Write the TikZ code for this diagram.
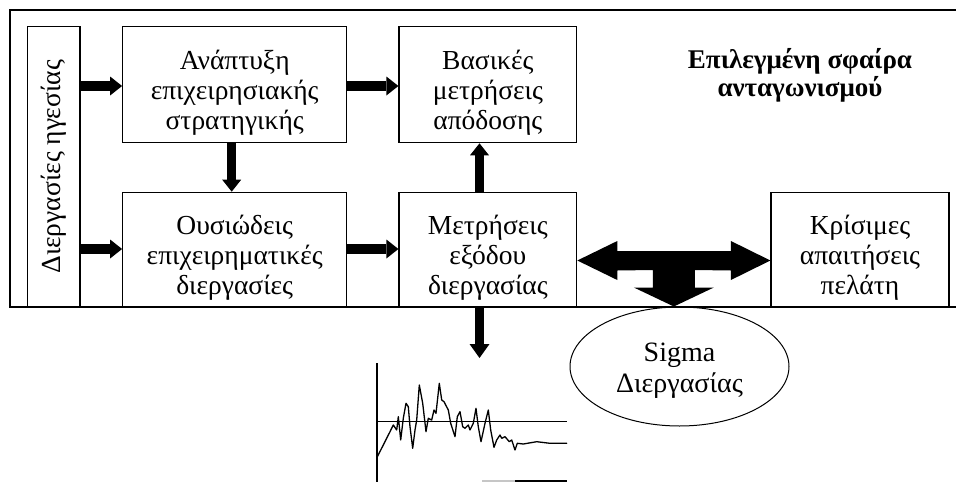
\documentclass[tikz,border=0pt]{standalone}
\usepackage{fontspec}
\setmainfont{Liberation Serif}
\usetikzlibrary{arrows.meta,calc,shapes.geometric}
\newcommand\boxfont{\fontsize{27.5}{30}\selectfont}
\begin{document}
\begin{tikzpicture}[x=1pt,y=-1pt,
  box/.style={draw,line width=1.2pt,inner sep=0pt},
  boxtext/.style={align=center,font=\boxfont,inner sep=0pt,yshift=-8.5pt},
  fat/.style={line width=9.5pt,-{Triangle[width=19pt,length=12pt,line width=0pt]}},
  frame/.style={line width=1.3pt},
  ]
\useasboundingbox (0,0) rectangle (956,482);

% outer frame, open on the right
\draw[frame] (956,10) -- (10,10) -- (10,307) -- (956,307);

% process boxes
\node[box,align=center,font=\boxfont,rotate=90,minimum width=280.3pt,minimum height=52.5pt] (lead) at (53.75,166.85) {Διεργασίες ηγεσίας};
\node[box,minimum width=224pt,minimum height=115.8pt,
  label={[boxtext]center:{Ανάπτυξη\\επιχειρησιακής\\στρατηγικής}}] (A) at (234.7,84.6) {};
\node[box,minimum width=224pt,minimum height=114.7pt,
  label={[boxtext]center:{Ουσιώδεις\\επιχειρηματικές\\διεργασίες}}] (B) at (234.7,249.65) {};
\node[box,minimum width=177.7pt,minimum height=116pt,
  label={[boxtext]center:{Βασικές\\μετρήσεις\\απόδοσης}}] (C) at (487.85,84.7) {};
\node[box,minimum width=177.7pt,minimum height=114.7pt,
  label={[boxtext]center:{Μετρήσεις\\εξόδου\\διεργασίας}}] (D) at (487.85,249.65) {};
\node[box,minimum width=178pt,minimum height=114.7pt,
  label={[boxtext]center:{Κρίσιμες\\απαιτήσεις\\πελάτη}}] (E) at (860,249.65) {};

\node[align=center,font=\fontsize{27}{28}\selectfont\bfseries] (title) at (800,75) {Επιλεγμένη σφαίρα\\ανταγωνισμού};

\node[draw,ellipse,line width=1pt,minimum width=219pt,minimum height=119pt,inner sep=0pt,
  label={[align=center,font=\fontsize{28}{31.5}\selectfont,yshift=-4pt]center:{Sigma\\Διεργασίας}}] (sig) at (679.5,366.5) {};

% thick connectors
\draw[fat] (lead.south |- 0,86) -- (A.west |- 0,86);
\draw[fat] (lead.south |- 0,249) -- (B.west |- 0,249);
\draw[fat] (A.east |- 0,86) -- (C.west |- 0,86);
\draw[fat] (B.east |- 0,249) -- (D.west |- 0,249);
\draw[fat] (A.south -| 231.7,0) -- (B.north -| 231.7,0);
\draw[fat] (D.north -| 479.5,0) -- (C.south -| 479.5,0);
\coordinate (out) at (479.5,358);
\draw[fat,-{Triangle[width=20pt,length=14pt,line width=0pt]}] (D.south -| 479.5,0) -- (out);

% T-shaped double arrow between D, E and the sigma ellipse
\coordinate (tL) at (D.east |- 0,260.5);
\coordinate (tR) at (E.west |- 0,260.5);
\coordinate (tM) at ($(tL)!0.5!(tR)$);
\coordinate (tD) at (tM |- sig.north);
\fill (tL) -- ($(tL)+(40,-19.5)$) -- ($(tL)+(40,-9.5)$)
  -- ($(tR)+(-39.5,-9.5)$) -- ($(tR)+(-39.5,-19.5)$) -- (tR)
  -- ($(tR)+(-39.5,19.5)$) -- ($(tR)+(-39.5,10)$)
  -- ($(tD)+(21,-36.5)$) -- ($(tD)+(21,-19)$) -- ($(tD)+(40,-19)$) -- (tD)
  -- ($(tD)+(-40,-19)$) -- ($(tD)+(-21,-19)$) -- ($(tD)+(-21,-36.5)$)
  -- ($(tL)+(40,10)$) -- ($(tL)+(40,19.5)$) -- cycle;

% control chart sketch
\draw[line width=1.2pt] (377,363) -- (377,482);
\draw[line width=1.5pt] (377,421.7) -- (567,421.7);
\draw[line width=1.5pt,gray!45] (482,481) -- (515,481);
\draw[line width=1.5pt] (515,481) -- (567,481);
\draw[line width=1.3pt,line join=round,line cap=round]
  (377.3,456.7) -- (383.3,445) -- (390,431.7) -- (393.3,425) -- (396.7,430)
  -- (398.3,416.7) -- (400.7,440) -- (403.3,418.3) -- (406,403.3) -- (408.3,406.7)
  -- (410,426.7) -- (412.7,448.3) -- (415,430) -- (416.7,420) -- (419.3,385)
  -- (422.7,403.3) -- (426,431.7) -- (428.3,418.3) -- (431.7,420) -- (434,410)
  -- (436,413.3) -- (439.3,383.3) -- (441.7,400) -- (444,401.7) -- (448.3,410)
  -- (450.7,423.3) -- (455,436.7) -- (457.3,416.7) -- (460,411.7) -- (462.7,426.7)
  -- (465,428.3) -- (468.3,425) -- (470,430) -- (473.3,423.3) -- (476,408.3)
  -- (478.3,426.7) -- (481,441.7) -- (485,423.3) -- (488.3,410) -- (490.7,430)
  -- (494,447.3) -- (496.7,440) -- (500,435) -- (501.7,438.3) -- (505,436.7)
  -- (509.3,441.7) -- (511.7,440) -- (515,450) -- (517.3,443.3) -- (523.3,444)
  -- (536.7,441.7) -- (550,443.3) -- (566.7,443.3);
\end{tikzpicture}
\end{document}
